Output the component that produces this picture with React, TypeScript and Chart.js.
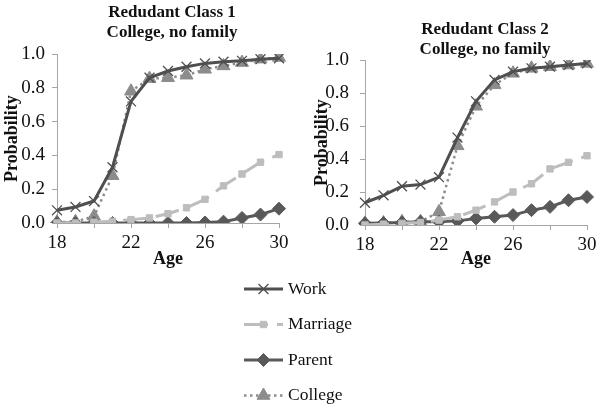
import React, { useEffect, useRef } from 'react';
import { Chart, registerables } from 'chart.js';
import * as helpers from 'chart.js/helpers';

Chart.register(...registerables);

// Ages on the x axis and the ones that carry a printed label
const ages = ['18', '19', '20', '21', '22', '23', '24', '25', '26', '27', '28', '29', '30'];
const labelledAges = ['18', '22', '26', '30'];
const probabilityTicks = [0, 0.2, 0.4, 0.6, 0.8, 1.0];

const seriesNames = ['Work', 'Marriage', 'Parent', 'College'];

// Redudant Class 1 — College, no family
const class1Work = [0.075, 0.095, 0.13, 0.33, 0.72, 0.86, 0.9, 0.925, 0.945, 0.955, 0.96, 0.97, 0.975];
const class1Marriage = [0.0, 0.0, 0.005, 0.01, 0.02, 0.03, 0.055, 0.09, 0.14, 0.22, 0.29, 0.36, 0.405];
const class1Parent = [0.0, 0.0, 0.0, 0.0, 0.0, 0.0, 0.0, 0.0, 0.003, 0.008, 0.03, 0.05, 0.085];
const class1College = [0.005, 0.008, 0.04, 0.28, 0.78, 0.855, 0.86, 0.875, 0.91, 0.93, 0.95, 0.97, 0.98];

// Redudant Class 2 — College, no family
const class2Work = [0.135, 0.18, 0.235, 0.245, 0.29, 0.53, 0.75, 0.88, 0.93, 0.95, 0.96, 0.97, 0.98];
const class2Marriage = [0.0, 0.005, 0.01, 0.015, 0.03, 0.05, 0.09, 0.14, 0.2, 0.25, 0.34, 0.38, 0.42];
const class2Parent = [0.01, 0.012, 0.015, 0.02, 0.02, 0.025, 0.04, 0.05, 0.06, 0.09, 0.11, 0.15, 0.17];
const class2College = [0.01, 0.012, 0.02, 0.02, 0.08, 0.48, 0.72, 0.85, 0.92, 0.95, 0.96, 0.97, 0.98];

const SERIF = "'Liberation Serif', 'Times New Roman', serif";
const AXIS_GREY = '#a6a6a6';
const TEXT = '#111111';

type SeriesStyle = {
  borderColor: string;
  borderWidth: number;
  borderDash: number[];
  pointStyle: string;
  pointRadius: number;
  pointBorderWidth: number;
  pointBackgroundColor: string;
  pointBorderColor: string;
};

const styles: Record<string, SeriesStyle> = {
  Work: {
    borderColor: '#4f4f4f', borderWidth: 3, borderDash: [],
    pointStyle: 'crossRot', pointRadius: 7, pointBorderWidth: 1.3,
    pointBackgroundColor: '#4f4f4f', pointBorderColor: '#4f4f4f',
  },
  Marriage: {
    borderColor: '#bdbdbd', borderWidth: 3, borderDash: [24, 9],
    pointStyle: 'rect', pointRadius: 4.5, pointBorderWidth: 1,
    pointBackgroundColor: '#bdbdbd', pointBorderColor: '#bdbdbd',
  },
  Parent: {
    borderColor: '#595959', borderWidth: 3, borderDash: [],
    pointStyle: 'rectRot', pointRadius: 6.5, pointBorderWidth: 1,
    pointBackgroundColor: '#595959', pointBorderColor: '#595959',
  },
  College: {
    borderColor: '#8c8c8c', borderWidth: 2.5, borderDash: [2.5, 3.5],
    pointStyle: 'triangle', pointRadius: 7.5, pointBorderWidth: 1,
    pointBackgroundColor: '#8c8c8c', pointBorderColor: '#8c8c8c',
  },
};

function buildDatasets(values: number[][]) {
  return seriesNames.map((name, i) => ({
    label: name,
    data: values[i],
    ...styles[name],
    tension: 0,
    fill: false,
  }));
}

type PanelLayout = {
  titlePadTop: number;
  titlePadBottom: number;
  yAxisWidth: number;
  yTitlePad: number;
  yTickPad: number;
  xAxisHeight: number;
  rightGap: number;
};

function panelConfig(title: string[], values: number[][], lay: PanelLayout): any {
  const tickFont = { family: SERIF, size: 19 };
  const boldFont = { family: SERIF, size: 18, weight: 'bold' as const, lineHeight: 1 };
  return {
    type: 'line',
    data: { labels: ages, datasets: buildDatasets(values) },
    options: {
      responsive: false,
      animation: false,
      events: [],
      layout: { padding: 0 },
      plugins: {
        legend: { display: false },
        tooltip: { enabled: false },
        title: {
          display: true,
          text: title,
          color: TEXT,
          font: { family: SERIF, size: 17, weight: 'bold', lineHeight: 1.15 },
          padding: { top: lay.titlePadTop, bottom: lay.titlePadBottom },
        },
      },
      scales: {
        x: {
          type: 'category',
          offset: false,
          grid: {
            drawOnChartArea: false,
            drawTicks: true,
            tickLength: 5,
            color: (ctx: any) => (ctx.index % 2 === 0 ? AXIS_GREY : 'rgba(0,0,0,0)'),
          },
          border: { display: true, color: AXIS_GREY, width: 1 },
          ticks: {
            autoSkip: false,
            maxRotation: 0,
            padding: 4,
            color: TEXT,
            font: tickFont,
            callback: (_v: any, i: number) => (labelledAges.includes(ages[i]) ? ages[i] : ''),
          },
          title: { display: true, text: 'Age', color: TEXT, font: boldFont, padding: 0 },
          afterFit: (s: any) => { s.height = lay.xAxisHeight; },
        },
        y: {
          min: 0,
          max: 1,
          grid: { drawOnChartArea: false, drawTicks: true, tickLength: 5, color: AXIS_GREY },
          border: { display: true, color: AXIS_GREY, width: 1 },
          afterBuildTicks: (s: any) => { s.ticks = probabilityTicks.map((v) => ({ value: v })); },
          ticks: {
            padding: lay.yTickPad,
            color: TEXT,
            font: tickFont,
            callback: (v: any) => Number(v).toFixed(1),
          },
          title: {
            display: true,
            text: 'Probability',
            color: TEXT,
            font: boldFont,
            padding: { top: lay.yTitlePad, bottom: 0 },
          },
          afterFit: (s: any) => { s.width = lay.yAxisWidth; },
        },
        // empty spacer on the right so the title centres over the whole panel
        spacer: {
          type: 'linear',
          position: 'right',
          display: true,
          grid: { display: false },
          border: { display: false },
          ticks: { display: false },
          afterFit: (s: any) => { s.width = lay.rightGap; },
        },
      },
    },
  };
}

// Legend: a line sample with its marker, then the series name
const legendPlugin = {
  id: 'seriesLegend',
  afterDraw(chart: any) {
    const ctx = chart.ctx as CanvasRenderingContext2D;
    const x0 = 14;
    const x1 = 53;
    const textX = 58;
    const rowTop = 19;
    const rowGap = 35.5;
    chart.data.datasets.forEach((ds: any, i: number) => {
      const y = rowTop + i * rowGap;
      ctx.save();
      ctx.strokeStyle = ds.borderColor;
      ctx.lineWidth = ds.borderWidth;
      ctx.setLineDash(ds.borderDash || []);
      ctx.beginPath();
      ctx.moveTo(x0, y);
      ctx.lineTo(x1, y);
      ctx.stroke();
      ctx.setLineDash([]);
      ctx.fillStyle = ds.pointBackgroundColor;
      ctx.strokeStyle = ds.pointBorderColor;
      ctx.lineWidth = ds.pointBorderWidth;
      helpers.drawPoint(ctx, {
        pointStyle: ds.pointStyle,
        radius: ds.pointRadius,
        rotation: 0,
        borderWidth: ds.pointBorderWidth,
      } as any, (x0 + x1) / 2, y);
      ctx.fillStyle = TEXT;
      ctx.font = `17.5px ${SERIF}`;
      ctx.textBaseline = 'middle';
      ctx.textAlign = 'left';
      ctx.fillText(ds.label, textX, y);
      ctx.restore();
    });
  },
};

function legendConfig(): any {
  return {
    type: 'line',
    data: {
      labels: [],
      datasets: seriesNames.map((name) => ({ label: name, data: [], ...styles[name] })),
    },
    options: {
      responsive: false,
      animation: false,
      events: [],
      plugins: { legend: { display: false }, tooltip: { enabled: false }, title: { display: false } },
      scales: { x: { display: false }, y: { display: false } },
    },
    plugins: [legendPlugin],
  };
}

export default function App() {
  const leftRef = useRef<HTMLCanvasElement>(null);
  const rightRef = useRef<HTMLCanvasElement>(null);
  const legendRef = useRef<HTMLCanvasElement>(null);

  useEffect(() => {
    const charts: Chart[] = [];
    if (leftRef.current) {
      charts.push(new Chart(leftRef.current, panelConfig(
        ['Redudant Class 1', 'College, no family'],
        [class1Work, class1Marriage, class1Parent, class1College],
        { titlePadTop: 3.2, titlePadBottom: 11.8, yAxisWidth: 57, yTitlePad: 3, yTickPad: 7, xAxisHeight: 45, rightGap: 65 },
      )));
    }
    if (rightRef.current) {
      charts.push(new Chart(rightRef.current, panelConfig(
        ['Redudant Class 2', 'College, no family'],
        [class2Work, class2Marriage, class2Parent, class2College],
        { titlePadTop: 20.2, titlePadBottom: 0.8, yAxisWidth: 68, yTitlePad: 16, yTickPad: 11, xAxisHeight: 43, rightGap: 86 },
      )));
    }
    if (legendRef.current) {
      charts.push(new Chart(legendRef.current, legendConfig()));
    }
    return () => charts.forEach((c) => c.destroy());
  }, []);

  return (
    <div style={{ position: 'fixed', left: 0, top: 0, width: 597, height: 409, overflow: 'hidden', background: '#fff' }}>
      <canvas ref={leftRef} width={344} height={268} style={{ position: 'absolute', left: 0, top: 0, width: 344, height: 268 }} />
      <canvas ref={rightRef} width={376} height={268} style={{ position: 'absolute', left: 297, top: 0, width: 376, height: 268 }} />
      <canvas ref={legendRef} width={170} height={139} style={{ position: 'absolute', left: 230, top: 270, width: 170, height: 139 }} />
    </div>
  );
}
